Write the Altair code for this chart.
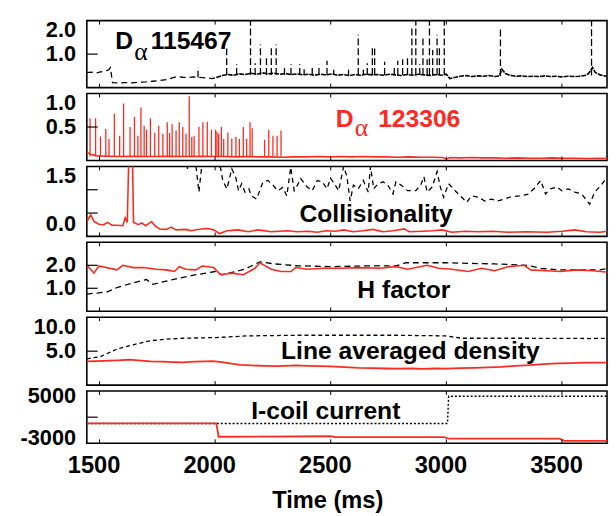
import altair as alt
import pandas as pd

RED = "#ff2a1f"
BLACK = "black"
X_DOMAIN = [1445, 3695]
W = 528
LABEL_FONT = "Liberation Sans"
ANNOT_FONT = "Liberation Sans"
X_TICKS = [1500, 2000, 2500, 3000, 3500]

# ---------------- y tick labels per panel (value, text, vertical placement) ----------------
Y1_LAB = {"v": [2.0, 1.0], "s": ["2.0", "1.0"], "b": ["top", "middle"]}
Y2_LAB = {"v": [1.0, 0.5], "s": ["1.0", "0.5"], "b": ["top", "middle"]}
Y3_LAB = {"v": [1.5, 0.0], "s": ["1.5", "0.0"], "b": ["top", "bottom"]}
Y4_LAB = {"v": [2.0, 1.0], "s": ["2.0", "1.0"], "b": ["middle", "middle"]}
Y5_LAB = {"v": [10.0, 5.0], "s": ["10.0", "5.0"], "b": ["top", "middle"]}
Y6_LAB = {"v": [5000, -3000], "s": ["5000", "-3000"], "b": ["middle", "middle"]}

# ---------------- Panel 1: D-alpha 115467 (black dashed) ----------------
p1_pre_t = [1445, 1465, 1485, 1505, 1525, 1538, 1547, 1556, 1580, 1610, 1640, 1670, 1700, 1730,
            1760, 1790, 1815, 1835, 1860, 1885, 1905, 1945, 1965, 1985, 2005]
p1_pre_v = [0.45, 0.46, 0.44, 0.47, 0.50, 0.52, 0.60, 0.15, 0.14, 0.15, 0.14, 0.16, 0.17, 0.19,
            0.21, 0.24, 0.29, 0.33, 0.31, 0.30, 0.32, 0.30, 0.29, 0.27, 0.30]
p1_post_t = [2005, 2030, 2055, 2080, 2105, 2130, 2155, 2180, 2205, 2230, 2255, 2280, 2305, 2330,
             2355, 2380, 2405, 2430, 2455, 2480, 2505, 2530, 2555, 2580, 2605, 2630, 2655, 2680,
             2705, 2730, 2755, 2780, 2805, 2830, 2855, 2880, 2905, 2930, 2955, 2980, 3000, 3015,
             3035, 3060, 3085, 3110, 3135, 3160, 3185, 3210, 3230, 3240, 3255, 3275, 3300, 3325,
             3350, 3375, 3400, 3425, 3450, 3475, 3500, 3525, 3550, 3575, 3600, 3615, 3632, 3645,
             3665, 3685, 3700]
p1_post_v = [0.30, 0.36, 0.39, 0.37, 0.41, 0.39, 0.43, 0.40, 0.44, 0.41, 0.43, 0.40, 0.42, 0.39,
             0.41, 0.38, 0.40, 0.37, 0.40, 0.38, 0.41, 0.37, 0.39, 0.36, 0.39, 0.37, 0.40, 0.38,
             0.39, 0.37, 0.40, 0.38, 0.36, 0.39, 0.37, 0.40, 0.38, 0.36, 0.39, 0.37, 0.40, 0.27,
             0.30, 0.34, 0.36, 0.33, 0.35, 0.34, 0.36, 0.33, 0.35, 0.55, 0.42, 0.37, 0.34, 0.35,
             0.33, 0.34, 0.33, 0.35, 0.33, 0.34, 0.32, 0.34, 0.33, 0.34, 0.36, 0.42, 0.60, 0.45,
             0.38, 0.35, 0.34]
p1_spike_t = [1926, 2050, 2093, 2153, 2173, 2196, 2222, 2243, 2264, 2300, 2328, 2366, 2385, 2420,
              2449, 2484, 2513, 2577, 2619, 2641, 2658, 2680, 2690, 2733, 2775, 2790, 2811, 2832,
              2851, 2868, 2885, 2899, 2917, 2927, 2941, 2960, 2970, 2991, 3234, 3628]
p1_spike_v = [0.60, 1.17, 0.70, 2.10, 0.73, 1.29, 0.88, 1.18, 1.29, 0.62, 0.70, 0.70, 0.55, 0.60,
              0.68, 0.80, 0.53, 0.53, 1.58, 0.53, 0.73, 1.26, 1.17, 0.77, 0.60, 0.80, 0.85, 0.97,
              1.77, 2.10, 0.70, 1.48, 0.85, 2.10, 1.12, 1.58, 1.26, 2.10, 1.80, 2.10]
p1_spike_base = [0.30] + [0.38] * 37 + [0.35, 0.36]

# ---------------- Panel 2: D-alpha 123306 (red) ----------------
p2_t = [1445, 1465, 1490, 1540, 1590, 1640, 1690, 1740, 1790, 1840, 1890, 1940, 1990, 2040,
        2090, 2140, 2190, 2240, 2290, 2340, 2390, 2440, 2490, 2540, 2590, 2640, 2690, 2740,
        2790, 2840, 2890, 2940, 2985, 3000, 3015, 3060, 3110, 3160, 3210, 3260, 3310, 3360,
        3410, 3460, 3510, 3560, 3610, 3660, 3700]
p2_v = [0.12, 0.09, 0.07, 0.065, 0.06, 0.065, 0.06, 0.06, 0.065, 0.06, 0.06, 0.065, 0.06, 0.06,
        0.055, 0.06, 0.055, 0.055, 0.05, 0.055, 0.055, 0.06, 0.055, 0.06, 0.055, 0.06, 0.055, 0.055,
        0.05, 0.055, 0.05, 0.05, 0.045, 0.02, 0.045, 0.04, 0.045, 0.04, 0.04, 0.035, 0.04, 0.035,
        0.035, 0.04, 0.035, 0.035, 0.03, 0.035, 0.03]
p2_spike_t = [1459, 1483, 1504, 1527, 1541, 1564, 1587, 1604, 1632, 1651, 1666, 1679, 1693, 1703,
              1720, 1739, 1756, 1774, 1793, 1803, 1814, 1831, 1845, 1860, 1874, 1888, 1899, 1909,
              1930, 1947, 1966, 1984, 2002, 2008, 2015, 2027, 2037, 2055, 2072, 2090, 2105, 2122,
              2136, 2151, 2160, 2214, 2232, 2250, 2268, 2285]
p2_spike_v = [0.63, 0.63, 0.36, 0.47, 0.32, 0.70, 0.37, 0.85, 0.50, 0.65, 0.37, 0.79, 0.52, 0.46,
              0.63, 0.42, 0.52, 0.40, 0.57, 0.41, 0.54, 0.45, 0.57, 0.50, 0.40, 0.96, 0.35, 0.37,
              0.50, 0.57, 0.58, 0.46, 0.46, 0.43, 0.40, 0.50, 0.32, 0.42, 0.33, 0.35, 0.32, 0.50,
              0.32, 0.57, 0.48, 0.31, 0.46, 0.37, 0.37, 0.45]

# ---------------- Panel 3: Collisionality ----------------
p3_red_t = [1445, 1462, 1476, 1497, 1518, 1535, 1554, 1575, 1601, 1611, 1620, 1627, 1642, 1647,
            1668, 1682, 1700, 1725, 1739, 1760, 1789, 1810, 1831, 1874, 1895, 1938, 1966, 1994,
            2019, 2051, 2101, 2143, 2186, 2243, 2314, 2356, 2400, 2442, 2480, 2520, 2556, 2598,
            2640, 2683, 2726, 2770, 2818, 2840, 2897, 2940, 2981, 3024, 3080, 3138, 3200, 3266,
            3350, 3436, 3500, 3556, 3606, 3663, 3700]
p3_red_v = [0.32, 0.46, 0.32, 0.26, 0.25, 0.30, 0.24, 0.24, 0.23, 0.40, 0.30, 1.80, 1.80, 0.30,
            0.25, 0.29, 0.23, 0.32, 0.23, 0.16, 0.15, 0.20, 0.14, 0.15, 0.12, 0.16, 0.17, 0.14,
            0.06, 0.12, 0.14, 0.10, 0.14, 0.10, 0.12, 0.10, 0.11, 0.09, 0.12, 0.11, 0.14, 0.10,
            0.12, 0.15, 0.10, 0.12, 0.16, 0.10, 0.11, 0.12, 0.14, 0.09, 0.11, 0.10, 0.11, 0.09,
            0.10, 0.09, 0.11, 0.14, 0.10, 0.09, 0.11]
p3_blk_t = [1870, 1880, 1895, 1915, 1930, 1944, 1990, 2023, 2033, 2051, 2072, 2090, 2101, 2115,
            2129, 2146, 2157, 2179, 2193, 2207, 2228, 2250, 2271, 2292, 2310, 2327, 2342, 2356,
            2370, 2398, 2420, 2442, 2463, 2484, 2499, 2520, 2534, 2556, 2570, 2584, 2598, 2619,
            2641, 2662, 2672, 2686, 2705, 2726, 2747, 2769, 2782, 2804, 2832, 2868, 2889, 2903,
            2917, 2939, 2960, 2974, 2988, 3010, 3038, 3067, 3088, 3109, 3138, 3166, 3195, 3223,
            3251, 3280, 3323, 3351, 3379, 3408, 3429, 3450, 3479, 3500, 3528, 3556, 3585, 3620,
            3642, 3670, 3692]
p3_blk_v = [1.90, 1.45, 1.70, 1.60, 0.95, 1.60, 1.70, 1.48, 1.20, 1.02, 1.45, 1.25, 0.98, 1.13,
            0.95, 1.02, 0.87, 0.80, 0.98, 1.17, 1.20, 1.10, 0.98, 1.05, 0.87, 1.48, 0.98, 1.10,
            1.24, 1.06, 0.98, 1.20, 1.17, 1.02, 1.25, 1.10, 0.98, 1.50, 1.28, 0.76, 1.10, 1.02,
            1.20, 0.95, 1.50, 1.02, 1.13, 1.17, 1.10, 0.91, 1.17, 1.10, 0.98, 0.98, 1.10, 1.28,
            0.95, 1.06, 1.39, 1.06, 0.84, 1.13, 0.98, 0.84, 0.73, 0.87, 0.84, 0.76, 0.80, 0.76,
            0.80, 0.85, 0.87, 0.90, 1.02, 1.20, 0.91, 1.02, 1.06, 0.98, 1.02, 0.95, 0.91, 0.69,
            0.95, 1.10, 1.25]

# ---------------- Panel 4: H factor ----------------
p4_red_t = [1445, 1476, 1497, 1575, 1601, 1646, 1689, 1746, 1789, 1824, 1845, 1874, 1916, 1944,
            1994, 2023, 2072, 2122, 2172, 2193, 2243, 2285, 2328, 2349, 2399, 2470, 2541, 2626,
            2712, 2782, 2832, 2917, 2967, 3024, 3095, 3152, 3209, 3266, 3301, 3337, 3365, 3436,
            3493, 3564, 3635, 3700]
p4_red_v = [2.00, 1.66, 1.97, 1.80, 2.00, 1.90, 1.90, 1.83, 1.80, 1.73, 1.94, 1.83, 1.80, 1.97,
            1.90, 1.59, 1.66, 1.59, 1.87, 2.11, 1.83, 1.73, 1.73, 1.90, 1.83, 1.87, 1.87, 1.90,
            1.87, 1.94, 1.83, 2.00, 1.87, 1.83, 1.73, 1.87, 1.76, 1.94, 1.97, 2.00, 1.80, 1.76,
            1.73, 1.80, 1.76, 1.70]
p4_blk_t = [1445, 1533, 1575, 1646, 1703, 1731, 1816, 1901, 2001, 2030, 2129, 2193, 2257, 2356,
            2499, 2641, 2782, 2825, 2996, 3209, 3351, 3408, 3493, 3663, 3700]
p4_blk_v = [0.75, 0.84, 1.03, 1.24, 1.38, 1.17, 1.38, 1.56, 1.73, 1.59, 1.83, 2.15, 2.06, 1.98,
            1.94, 1.97, 1.97, 2.11, 2.11, 2.06, 2.00, 1.87, 1.80, 1.80, 1.87]

# ---------------- Panel 5: Line averaged density ----------------
p5_blk_t = [1445, 1504, 1575, 1646, 1717, 1789, 1860, 2001, 2143, 2356, 2570, 2782, 2996, 3067,
            3351, 3635, 3700]
p5_blk_v = [3.87, 4.20, 5.30, 5.94, 6.52, 6.77, 6.90, 7.00, 7.25, 7.34, 7.34, 7.34, 7.25, 6.90,
            6.90, 6.86, 6.90]
p5_red_t = [1445, 1490, 1540, 1580, 1630, 1680, 1720, 1770, 1820, 1860, 1910, 1960, 1990, 2030,
            2070, 2110, 2160, 2210, 2260, 2300, 2350, 2400, 2450, 2500, 2560, 2620, 2680, 2740,
            2790, 2850, 2900, 2950, 3000, 3060, 3120, 3180, 3240, 3300, 3360, 3420, 3480, 3540,
            3600, 3650, 3700]
p5_red_v = [3.50, 3.55, 3.60, 3.65, 3.75, 3.60, 3.50, 3.45, 3.40, 3.35, 3.45, 3.50, 3.55, 3.40,
            3.15, 3.00, 2.90, 2.85, 2.80, 2.85, 2.90, 2.85, 2.80, 2.75, 2.65, 2.55, 2.50, 2.45,
            2.42, 2.45, 2.40, 2.45, 2.42, 2.50, 2.55, 2.62, 2.70, 2.85, 2.95, 3.10, 3.20, 3.25,
            3.30, 3.30, 3.30]

# ---------------- Panel 6: I-coil current ----------------
p6_blk_t = [1445, 3005, 3010, 3700]
p6_blk_v = [-200, -200, 5000, 5000]
p6_red_t = [1445, 2005, 2015, 2500, 2520, 2990, 3010, 3490, 3510, 3700]
p6_red_v = [-200, -200, -2750, -2650, -2800, -2800, -3100, -3100, -3550, -3550]

# ---------------- Annotations ----------------
ann1 = {"t": [1568, 1721], "v": [1.15, 1.15], "s": ["D", "115467"]}
ann1_alpha = {"t": [1650], "v": [0.82], "s": ["α"]}
ann2 = {"t": [2522, 2705], "v": [0.5, 0.5], "s": ["D", "123306"]}
ann2_alpha = {"t": [2604], "v": [0.37], "s": ["α"]}
ann3 = {"t": [2365], "v": [0.31], "s": ["Collisionality"]}
ann4 = {"t": [2615], "v": [0.59], "s": ["H factor"]}
ann5 = {"t": [2285], "v": [3.9], "s": ["Line averaged density"]}
ann6 = {"t": [2156], "v": [615], "s": ["I-coil current"]}


def df(t, v):
    return pd.DataFrame({"t": t, "v": v})


def xenc(bottom):
    sc = alt.Scale(domain=X_DOMAIN, nice=False, zero=False)
    if bottom:
        ax = alt.Axis(values=X_TICKS, format="d", labelFontSize=24, labelPadding=11,
                      labelOffset=-6, labelFlush=False, title="Time (ms)",
                      titleFont=LABEL_FONT, titleFontSize=24, titleFontWeight="bold",
                      titleX=244, titleY=46, titleAlign="center", titleBaseline="top")
        return alt.X("t:Q", scale=sc, axis=ax)
    return alt.X("t:Q", scale=sc, axis=None)


def yenc(domain):
    return alt.Y("v:Q", scale=alt.Scale(domain=domain, nice=False, zero=False), axis=None)


def line(data, y, color, dash=None, width=1.4, bottom=False):
    kw = dict(color=color, strokeWidth=width, clip=True)
    if dash:
        kw["strokeDash"] = dash
    return alt.Chart(data).mark_line(**kw).encode(x=xenc(bottom), y=y)


def spikes(t, v, base, y, color, dash=None):
    data = pd.DataFrame({"t": t, "v": base, "v2": v})
    kw = dict(color=color, strokeWidth=1.3, clip=True)
    if dash:
        kw["strokeDash"] = dash
    return alt.Chart(data).mark_rule(**kw).encode(x=xenc(False), y=y, y2="v2:Q")


def text(d, y, color, size=25, font=ANNOT_FONT, weight="bold", bottom=False):
    return alt.Chart(pd.DataFrame(d)).mark_text(
        align="left", baseline="alphabetic", font=font, fontSize=size,
        fontWeight=weight, color=color).encode(x=xenc(bottom), y=y, text="s:N")


def ylabels(lab, y):
    data = pd.DataFrame(lab)
    out = []
    for b in ["top", "middle", "bottom"]:
        sub = data[data["b"] == b]
        if len(sub) == 0:
            continue
        out.append(alt.Chart(sub).mark_text(
            align="right", baseline=b, dx=-11, font=LABEL_FONT, fontSize=22,
            fontWeight="bold", color="black").encode(y=y, x=alt.value(0), text="s:N"))
    return out


def frame_ticks(yticks, y, h, bottom=False):
    yt = alt.Chart(pd.DataFrame({"v": yticks})).mark_rule(color="black", strokeWidth=1.2).encode(
        y=y, x=alt.value(0), x2=alt.value(11))
    xt_top = alt.Chart(pd.DataFrame({"t": X_TICKS})).mark_rule(color="black", strokeWidth=1).encode(
        x=xenc(bottom), y=alt.value(0), y2=alt.value(4))
    xt_bot = alt.Chart(pd.DataFrame({"t": X_TICKS})).mark_rule(color="black", strokeWidth=1).encode(
        x=xenc(bottom), y=alt.value(h - 4), y2=alt.value(h))
    return [yt, xt_top, xt_bot]


H = [68, 68, 71, 70, 69, 53]

y1 = yenc([0, 2])
c1 = alt.layer(
    line(df(p1_pre_t, p1_pre_v), y1, BLACK, dash=[6, 4], width=1.3),
    line(df(p1_post_t, p1_post_v), y1, BLACK, dash=[5, 1], width=1.6),
    spikes(p1_spike_t, p1_spike_v, p1_spike_base, y1, BLACK, dash=[7, 3]),
    text(ann1, y1, BLACK),
    text(ann1_alpha, y1, BLACK, size=26, font="Liberation Serif", weight="normal"),
    *frame_ticks([1.0], y1, H[0]),
    *ylabels(Y1_LAB, y1),
).properties(width=W, height=H[0])

y2 = yenc([0, 1])
c2 = alt.layer(
    line(df(p2_t, p2_v), y2, RED, width=1.6),
    spikes(p2_spike_t, p2_spike_v, [0.06] * len(p2_spike_t), y2, RED),
    text(ann2, y2, RED),
    text(ann2_alpha, y2, RED, size=26, font="Liberation Serif", weight="normal"),
    *frame_ticks([0.5], y2, H[1]),
    *ylabels(Y2_LAB, y2),
).properties(width=W, height=H[1])

y3 = yenc([0, 1.5])
c3 = alt.layer(
    line(df(p3_blk_t, p3_blk_v), y3, BLACK, dash=[5, 4], width=1.3),
    line(df(p3_red_t, p3_red_v), y3, RED, width=1.6),
    text(ann3, y3, BLACK),
    *frame_ticks([0.5, 1.0], y3, H[2]),
    *ylabels(Y3_LAB, y3),
).properties(width=W, height=H[2])

y4 = yenc([0, 3])
c4 = alt.layer(
    line(df(p4_blk_t, p4_blk_v), y4, BLACK, dash=[6, 4], width=1.3),
    line(df(p4_red_t, p4_red_v), y4, RED, width=1.6),
    text(ann4, y4, BLACK),
    *frame_ticks([1.0, 2.0], y4, H[3]),
    *ylabels(Y4_LAB, y4),
).properties(width=W, height=H[3])

y5 = yenc([0, 10])
c5 = alt.layer(
    line(df(p5_blk_t, p5_blk_v), y5, BLACK, dash=[4, 3], width=1.3),
    line(df(p5_red_t, p5_red_v), y5, RED, width=1.8),
    text(ann5, y5, BLACK),
    *frame_ticks([5.0], y5, H[4]),
    *ylabels(Y5_LAB, y5),
).properties(width=W, height=H[4])

y6 = yenc([-4000, 6000])
c6 = alt.layer(
    line(df(p6_blk_t, p6_blk_v), y6, BLACK, dash=[2, 2], width=1.4, bottom=True),
    line(df(p6_red_t, p6_red_v), y6, RED, width=1.8, bottom=True),
    text(ann6, y6, BLACK, bottom=True),
    *frame_ticks([1000], y6, H[5], bottom=True),
    *ylabels(Y6_LAB, y6),
).properties(width=W, height=H[5])

chart = alt.vconcat(c1, c2, c3, c4, c5, c6, spacing=6, bounds="flush").properties(
    padding={"left": 11, "top": 7, "right": 0, "bottom": 0}
).configure_view(
    stroke="black", strokeWidth=1.6
).configure_axis(
    labelFont=LABEL_FONT, labelFontSize=24, labelFontWeight="bold", labelColor="black",
    grid=False, domain=False, ticks=False
)

chart.save("out.html", embed_options={"renderer": "svg", "actions": False})
